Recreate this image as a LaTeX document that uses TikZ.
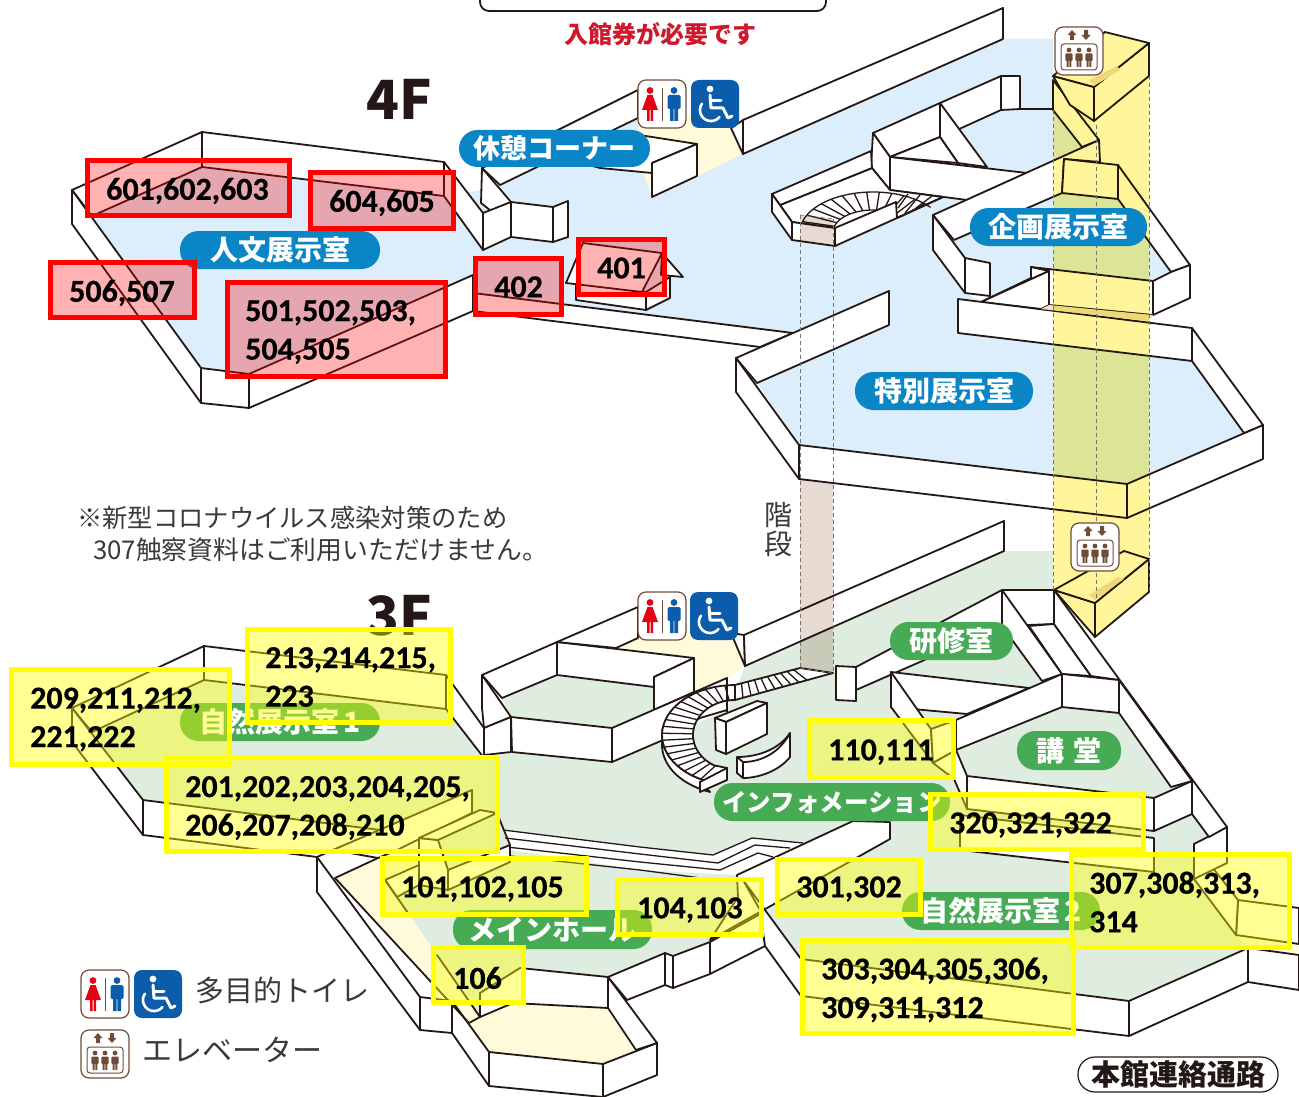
\documentclass[tikz,border=0pt]{standalone}
\usepackage{fontspec}
\setmainfont{Carlito}
\newfontfamily\numfont{Carlito}[BoldFeatures={FakeBold=0.5}]
\newfontfamily\jp{Noto Sans CJK JP}
\usetikzlibrary{calc}
\definecolor{ink}{HTML}{231815}
\definecolor{bluefloor}{HTML}{DCEEFB}
\definecolor{greenfloor}{HTML}{DFEDE1}
\definecolor{palefloor}{HTML}{FEFADA}
\definecolor{columnyellow}{HTML}{FFF59B}
\definecolor{stairtan}{HTML}{E6DAD1}
\definecolor{pillblue}{HTML}{0A85C6}
\definecolor{pillgreen}{HTML}{47AB55}
\definecolor{signblue}{HTML}{0B5CAB}
\definecolor{signred}{HTML}{E60012}
\definecolor{signbrown}{HTML}{6F4C3A}
\definecolor{noticered}{HTML}{D0182C}
\definecolor{legendgray}{HTML}{3A3A3A}
\definecolor{boxyellow}{RGB}{255,255,0}
\definecolor{boxred}{RGB}{255,0,0}
\tikzset{
 wall/.style={draw=ink,fill=white,line width=1.8pt,line join=round},
 edge/.style={draw=ink,line width=1.8pt,line cap=round},
 stepline/.style={draw=ink,line width=1.3pt},
 dashline/.style={draw=black!55,line width=.7pt,dash pattern=on 4pt off 3pt},
 pill/.style={fill=#1,rounded corners=18.5pt,inner sep=0pt,text=white,font=\jp\bfseries\fontsize{28}{28}\selectfont},
 redbox/.style={draw=boxred,line width=5.5pt,fill=boxred,fill opacity=.3,draw opacity=1},
 yellowbox/.style={draw=boxyellow,line width=5.5pt,fill=boxyellow,fill opacity=.42,draw opacity=1},
 nums/.style={inner sep=0pt,anchor=west,align=left,yshift=-2pt,text=black,font=\numfont\bfseries\fontsize{32}{38.5}\selectfont},
 icon/.style={draw=signbrown,fill=white,line width=1.2pt,rounded corners=8pt},
}
\newcommand{\pw}[1]{\path[wall] #1 -- cycle;}
\newcommand{\toileticon}[2]{\begin{scope}[shift={(#1,#2)}]
 \path[icon] (0,0) rectangle (48,48);
 \draw[signbrown,line width=1pt] (24,8) -- (24,41);
 \fill[signred] (12,10.5) circle (3.4pt);
 \fill[signred] (9.5,15) -- (14.5,15) -- (20,30) -- (4,30) -- cycle;
 \fill[signred] (9,30) rectangle (11.5,41) (12.5,30) rectangle (15,41);
 \fill[signblue] (36,10.5) circle (3.4pt);
 \fill[signblue,rounded corners=1.5pt] (29.5,15) rectangle (42.5,29);
 \fill[signblue] (32,27) rectangle (35.6,41) (36.4,27) rectangle (40,41);
\end{scope}}
\newcommand{\chairicon}[2]{\begin{scope}[shift={(#1,#2)}]
 \fill[signblue,rounded corners=8pt] (0,0) rectangle (48,48);
 \fill[white] (19,9) circle (3.4pt);
 \draw[white,line width=3pt,line cap=round,line join=round] (19,15) -- (20,28) -- (32,28) -- (37,38) -- (41,36);
 \draw[white,line width=3pt,line cap=round] (20,21) -- (30,21);
 \draw[white,line width=2.6pt,line cap=round] plot[domain=40:215,samples=24] ({20+11*cos(\x)},{30+11*sin(\x)});
\end{scope}}
\newcommand{\lifticon}[2]{\begin{scope}[shift={(#1,#2)}]
 \path[icon] (0,0) rectangle (48,48);
 \draw[signbrown,line width=1pt,rounded corners=3pt] (6,17) rectangle (42,43);
 \fill[signbrown] (17,3) -- (21.5,8) -- (19,8) -- (19,13) -- (15,13) -- (15,8) -- (12.5,8) -- cycle;
 \fill[signbrown] (31,13) -- (26.5,8) -- (29,8) -- (29,3) -- (33,3) -- (33,8) -- (35.5,8) -- cycle;
 \foreach \u in {14,24,34}{
  \fill[signbrown] (\u,23) circle (2.4pt);
  \fill[signbrown,rounded corners=1pt] (\u-3.6,26.5) rectangle (\u+3.6,34);
  \fill[signbrown] (\u-2.4,33) rectangle (\u-.3,40) (\u+.3,33) rectangle (\u+2.4,40);
 }
\end{scope}}
\begin{document}
\begin{tikzpicture}[x=1pt,y=-1pt]
\useasboundingbox (0,0) rectangle (1299,1097);
\fill[white] (0,0) rectangle (1299,1097);
% ---------------------------------------- 4F floors
\fill[palefloor] (600,110) -- (638,100) -- (731,128) -- (743,154) -- (698,176) -- (640,190) -- cycle;
\fill[bluefloor] (92,216) -- (202,167) -- (444,196) -- (482,190) -- (500,185) -- (638,118) -- (640,165) -- (652,197) -- (698,176) -- (743,154) -- (1003,39) -- (1053,39) -- (1053,110) -- (1082,147) -- (1064,159) -- (933,215) -- (965,293) -- (981,302) -- (958,299) -- (958,333) -- (1192,361) -- (1244,433) -- (1127,484) -- (799,445) -- (757,383) -- (889,325) -- (889,291) -- (793,333) -- (473,293) -- (473,275) -- (249,374) -- (201,368) -- cycle;
\fill[bluefloor] (954,240) -- (1062,193) -- (1118,199) -- (1171,272) -- (1153,281) -- (1031,267) -- (1031,278) -- (981,302) -- (990,296) -- (990,263) -- (965,258) -- cycle;
% ---------------------------------------- 3F floors
\fill[palefloor] (600,625) -- (638,615) -- (731,633) -- (745,666) -- (700,700) -- (640,700) -- cycle;
\fill[greenfloor] (92,732) -- (204,680) -- (446,709) -- (484,755) -- (512,752) -- (612,762) -- (727,710) -- (745,666) -- (1004,551) -- (1053,551) -- (1053,590) -- (1092,640) -- (1225,827) -- (1194,844) -- (1238,900) -- (1248,948) -- (1129,1001) -- (801,959) -- (774,927) -- (738,897) -- (710,942) -- (608,977) -- (520,968) -- (480,993) -- (480,1017) -- (437,955) -- (385,880) -- (419,885) -- (419,838) -- (472,813) -- (380,830) -- (143,800) -- cycle;
\fill[greenfloor] (502,698) -- (557,675) -- (654,687) -- (654,710) -- (612,728) -- (511,717) -- cycle;
\fill[palefloor] (335,878) -- (378,858) -- (419,845) -- (419,865) -- (385,880) -- (437,955) -- (480,1017) -- (469,1023) -- cycle;
\fill[palefloor] (469,1023) -- (513,1003) -- (608,1008) -- (636,1050) -- (603,1064) -- (489,1052) -- cycle;
\fill[palefloor] (1236,935) -- (1299,944) -- (1299,955) -- (1248,948) -- cycle;
% ---------------------------------------- 4F walls
\pw{(72,190) -- (202,132) -- (202,167) -- (92,216)}
\pw{(202,132) -- (444,162) -- (444,196) -- (202,167)}
\pw{(444,162) -- (483,213) -- (483,250) -- (444,196)}
\pw{(72,190) -- (201,368) -- (201,403) -- (72,224)}
\pw{(201,368) -- (249,374) -- (249,408) -- (201,403)}
\pw{(249,374) -- (473,275) -- (473,311) -- (249,408)}
\pw{(473,293) -- (793,333) -- (760,347) -- (473,311)}
\pw{(482,168) -- (638,90) -- (638,118) -- (500,185)}
\pw{(482,168) -- (511,202) -- (491,211) -- (481,203)}
\pw{(483,213) -- (511,202) -- (511,237) -- (483,250)}
\pw{(511,202) -- (553,207) -- (553,242) -- (511,237)}
\pw{(553,207) -- (568,201) -- (568,237) -- (553,242)}
\pw{(620,132) -- (697,144) -- (652,163) -- (652,173) -- (600,168) -- (570,160)}
\pw{(652,163) -- (697,144) -- (697,176) -- (652,197)}
% annex 401
\pw{(576,283) -- (646,292) -- (646,310) -- (576,300)}
\pw{(646,292) -- (670,277) -- (670,298) -- (646,310)}
\pw{(662,253) -- (683,277) -- (661,275)}
\pw{(583,243) -- (662,253) -- (642,292) -- (566,283)}
% long back wall
\pw{(731,128) -- (743,120) -- (743,154)}
\pw{(743,120) -- (1003,8) -- (1003,39) -- (743,154)}
% centre walls
\pw{(940,103) -- (1001,76) -- (1001,110) -- (957,130)}
\pw{(1001,76) -- (1020,76) -- (1020,109) -- (1001,110)}
\path[edge] (1020,109) -- (1053,109);
\pw{(873,133) -- (940,103) -- (940,137) -- (890,157)}
\pw{(940,103) -- (987,167) -- (958,163) -- (940,137)}
\pw{(890,157) -- (940,137) -- (958,163)}
\pw{(890,157) -- (1027,173) -- (967,200) -- (890,190)}
\pw{(873,133) -- (890,157) -- (890,190) -- (871,167)}
% stair housing 4F
\pw{(780,205) -- (872,168) -- (890,190) -- (943,197) -- (897,218) -- (835,228) -- (792,222)}
\pw{(772,194) -- (871,151) -- (872,168) -- (780,205)}
\draw[stepline] plot[domain=38:165,samples=30] ({873+73*cos(\x)},{232-40*sin(\x)});
\foreach \a in {45,55,...,165}{\draw[stepline] ({873+73*cos(\a)},{232-40*sin(\a)}) -- ({873+40*cos(\a)},{232-22*sin(\a)});}
\draw[stepline] plot[domain=60:170,samples=20] ({873+40*cos(\x)},{232-22*sin(\x)});
\pw{(772,194) -- (792,222) -- (792,240) -- (772,212)}
\pw{(792,222) -- (835,228) -- (835,246) -- (792,240)}
\pw{(835,228) -- (896,202) -- (897,218) -- (835,246)}
\path[edge] (897,218) -- (943,197);
\draw[stepline] (908,194) -- (898,208);
\draw[stepline] (920,195) -- (905,213);
\draw[stepline] (932,196) -- (916,208);
% kikaku room
\pw{(933,215) -- (1099,140) -- (1100,162) -- (1064,159) -- (1062,193) -- (954,240)}
\pw{(1064,159) -- (1118,165) -- (1118,199) -- (1062,193)}
\pw{(1118,165) -- (1190,265) -- (1171,272) -- (1118,199)}
\pw{(1171,272) -- (1190,265) -- (1190,298) -- (1153,315) -- (1153,281)}
\pw{(1031,267) -- (1153,281) -- (1153,315) -- (1049,305) -- (1049,271)}
\pw{(1031,267) -- (1049,271) -- (981,302) -- (1031,278)}
\pw{(1049,271) -- (1049,305) -- (1041,309) -- (981,302)}
\pw{(933,215) -- (965,258) -- (965,293) -- (933,250)}
\pw{(965,258) -- (990,263) -- (990,296) -- (965,293)}
% tokubetsu room
\pw{(958,299) -- (1192,328) -- (1192,361) -- (958,333)}
\pw{(736,358) -- (889,291) -- (889,325) -- (757,383)}
\pw{(736,358) -- (799,445) -- (799,479) -- (736,392)}
\pw{(799,445) -- (1127,484) -- (1127,518) -- (799,479)}
\pw{(1127,484) -- (1263,425) -- (1263,459) -- (1127,518)}
\pw{(1192,328) -- (1263,425) -- (1244,433) -- (1192,361)}
% elevator 4F
\pw{(1053,80) -- (1099,140) -- (1082,147) -- (1053,110)}
\pw{(1053,76) -- (1094,87) -- (1094,121) -- (1070,105)}
\pw{(1094,87) -- (1149,43) -- (1149,76) -- (1094,121)}
\pw{(1105,32) -- (1149,43) -- (1094,87) -- (1053,76)}
\fill[stairtan!70!columnyellow] (1089,80) -- (1117,66) -- (1120,70) -- (1094,86) -- cycle;
\fill[stairtan!70!columnyellow] (1049,305) -- (1153,315) -- (1149,321) -- (1041,309) -- cycle;
% ---------------------------------------- 3F walls
\pw{(72,708) -- (204,646) -- (204,680) -- (92,732)}
\pw{(204,646) -- (446,675) -- (446,709) -- (204,680)}
\pw{(446,675) -- (484,728) -- (484,758) -- (446,709)}
\pw{(72,708) -- (143,800) -- (143,835) -- (72,742)}
\pw{(143,800) -- (380,830) -- (333,850) -- (317,857) -- (143,835)}
\pw{(333,850) -- (472,790) -- (472,813) -- (397,850) -- (378,858)}
% centre block
\pw{(482,675) -- (511,717) -- (484,728) -- (482,708)}
\pw{(482,675) -- (557,642) -- (557,675) -- (502,698)}
\pw{(557,642) -- (694,658) -- (654,677) -- (654,687) -- (557,675)}
\pw{(654,677) -- (694,658) -- (694,692) -- (654,710)}
\pw{(557,642) -- (638,607) -- (638,638) -- (616,648)}
\pw{(484,728) -- (511,717) -- (511,752) -- (484,755)}
\pw{(511,717) -- (612,728) -- (612,762) -- (512,752)}
\pw{(612,728) -- (727,678) -- (727,710) -- (700,718) -- (663,740) -- (612,762)}
% long back wall
\pw{(731,633) -- (744,635) -- (745,666)}
\pw{(744,635) -- (1004,521) -- (1004,551) -- (745,666)}
% hall
\pw{(317,857) -- (420,997) -- (420,1030) -- (317,892)}
\pw{(420,997) -- (452,1001) -- (452,1033) -- (420,1030)}
\pw{(452,1001) -- (489,1052) -- (489,1086) -- (452,1033)}
\pw{(489,1052) -- (603,1064) -- (603,1097) -- (489,1086)}
\pw{(603,1064) -- (657,1043) -- (657,1075) -- (603,1097)}
\pw{(608,977) -- (657,1043) -- (636,1050) -- (608,1008)}
\pw{(480,993) -- (520,968) -- (608,977) -- (608,1008) -- (513,1003) -- (480,1017)}
\path[edge] (437,955) -- (480,1017) -- (469,1023);
\path[edge] (335,878) -- (469,1023);
\path[edge] (335,878) -- (378,858);
% hall steps
\path[fill=white] (503,830) -- (713,855) -- (752,838) -- (803,843) -- (737,875) -- (640,870) -- (510,850) -- cycle;
\path[stepline] (503,830) -- (640,847) -- (713,855) -- (752,838) -- (803,843);
\path[stepline] (505,838) -- (640,854) -- (718,863) -- (755,845) -- (790,848);
\path[stepline] (507,847) -- (640,862) -- (720,870) -- (758,853) -- (773,857);
\path[stepline] (510,856) -- (640,870) -- (716,880);
% step block
\pw{(385,880) -- (419,865) -- (419,885) -- (397,897)}
\path[edge] (385,880) -- (408,913);
\pw{(448,870) -- (510,845) -- (510,862) -- (448,890)}
\pw{(419,838) -- (438,840) -- (448,870) -- (448,890) -- (419,885)}
\pw{(419,838) -- (480,810) -- (497,813) -- (438,840)}
\path[edge] (497,813) -- (510,845);
% right of hall
\pw{(608,977) -- (665,953) -- (665,985) -- (627,1000)}
\pw{(665,953) -- (673,956) -- (673,988) -- (665,985)}
\pw{(673,956) -- (710,942) -- (710,974) -- (673,988)}
\pw{(710,942) -- (762,913) -- (765,946) -- (710,974)}
\pw{(737,875) -- (853,821) -- (890,822) -- (890,839) -- (710,940) -- (738,897)}
\pw{(743,880) -- (801,959) -- (801,996) -- (765,946) -- (760,910)}
\pw{(801,959) -- (1129,1001) -- (1129,1036) -- (801,996)}
\pw{(1129,1001) -- (1248,948) -- (1248,982) -- (1129,1036)}
\pw{(1248,948) -- (1299,955) -- (1299,990) -- (1248,982)}
\pw{(1238,900) -- (1299,908) -- (1299,944) -- (1236,935)}
\pw{(1194,844) -- (1238,900) -- (1236,935) -- (1194,879)}
\pw{(1194,844) -- (1227,827) -- (1227,863) -- (1194,879)}
% kenshu + corridor
\pw{(856,667) -- (1002,590) -- (1002,626) -- (856,690)}
\pw{(836,666) -- (856,667) -- (856,701) -- (836,700)}
\pw{(1002,590) -- (1054,590) -- (1054,624) -- (1002,626)}
\pw{(1002,590) -- (1062,674) -- (1042,681) -- (1002,626)}
\pw{(1029,626) -- (1054,624) -- (1091,676) -- (1062,674)}
\pw{(1054,590) -- (1227,827) -- (1209,837) -- (1192,814) -- (1192,781) -- (1119,680) -- (1091,676) -- (1054,624)}
% lecture hall
\pw{(960,815) -- (1154,838) -- (1154,872) -- (960,850)}
\pw{(967,776) -- (1154,798) -- (1154,831) -- (967,809)}
\pw{(1154,798) -- (1192,781) -- (1192,814) -- (1154,831)}
\pw{(1119,680) -- (1192,781) -- (1171,787) -- (1119,713)}
\pw{(1062,674) -- (1119,680) -- (1119,713) -- (1062,707)}
\pw{(956,720) -- (1062,674) -- (1062,707) -- (956,750)}
\pw{(891,672) -- (1029,688) -- (967,714) -- (891,707)}
\pw{(891,672) -- (931,729) -- (933,763) -- (891,707)}
\pw{(931,729) -- (956,720) -- (956,750) -- (933,763)}
\pw{(933,763) -- (956,750) -- (967,776) -- (967,809) -- (954,779)}
% stair 3F
\path[wall] plot[domain=172:250,samples=16] ({735+73*cos(\x)},{745-50*sin(\x)}) -- (700,782) -- plot[domain=250:172,samples=16] ({735+73*cos(\x)},{735-50*sin(\x)}) -- cycle;
\path[wall] (800,668) -- plot[domain=90:250,samples=30] ({735+73*cos(\x)},{735-50*sin(\x)}) -- (727,768) -- plot[domain=240:90,samples=30] ({735+42*cos(\x)},{735-35*sin(\x)}) -- (833,673) -- cycle;
\path[wall] (700,782) -- (727,768) -- (727,780) -- (700,792) -- cycle;
\foreach \a in {98,106,...,242}{\draw[stepline] ({735+73*cos(\a)},{735-50*sin(\a)}) -- ({735+42*cos(\a)},{735-35*sin(\a)});}
\foreach \t in {0,.1,...,1}{\draw[stepline] ($(735,685)!\t!(800,668)$) -- ($(735,700)!\t!(815,678)$);}
\draw[stepline] (727,678) -- (727,712);
% info desk
\pw{(715,718) -- (757,701) -- (767,703) -- (726,722)}
\pw{(726,722) -- (767,703) -- (767,734) -- (726,754)}
\pw{(715,718) -- (726,722) -- (726,754) -- (716,750)}
\path[wall] (737,757) .. controls (760,757) and (780,748) .. (790,733) -- (790,757) .. controls (780,770) and (760,778) .. (743,778) -- (737,773) -- cycle;
\path[edge] (737,757) -- (743,762) .. controls (762,762) and (780,752) .. (790,733);
\path[edge] (743,762) -- (743,778);
% shaft 3F
\pw{(1054,590) -- (1095,603) -- (1095,637)}
\pw{(1095,603) -- (1149,559) -- (1149,592) -- (1095,637)}
\pw{(1054,590) -- (1124,551) -- (1149,559) -- (1095,603)}
\fill[stairtan!70!columnyellow] (1089,595) -- (1118,577) -- (1124,579) -- (1095,600) -- cycle;
% ---------------------------------------- see-through column and stair tube
\begin{scope}[blend mode=multiply]
\fill[columnyellow] (1053,76) -- (1105,32) -- (1149,43) -- (1149,592) -- (1095,637) -- (1054,590) -- cycle;
\fill[stairtan] (800,215) -- (833,219) -- (833,246) -- (800,241) -- cycle;
\fill[stairtan] (800,479) -- (833,484) -- (833,673) -- (800,668) -- cycle;
\end{scope}
\foreach \u/\a/\b in {1053/110/590,1096/125/600,1149/76/592}{\draw[dashline] (\u,\a) -- (\u,\b);}
\foreach \u/\a/\b in {800/215/668,833/219/673}{\draw[dashline] (\u,\a) -- (\u,\b);}
\draw[dashline] (800,215) -- (833,219);
\draw[dashline] (800,668) -- (833,673);
% ---------------------------------------- pills
\node[pill=pillblue,minimum width=191pt,minimum height=37pt] (p1) at (554.5,148.5) {\fontsize{27}{27}\selectfont 休憩コーナー};
\node[pill=pillblue,minimum width=200pt,minimum height=38pt] (p2) at (280,250) {人文展示室\hspace{8pt}};
\node[pill=pillblue,minimum width=177pt,minimum height=38pt] (p3) at (1058.5,227) {企画展示室\hspace{4pt}};
\node[pill=pillblue,minimum width=178pt,minimum height=38pt] (p4) at (944,391) {特別展示室};
\node[pill=pillgreen,minimum width=123pt,minimum height=38pt] (p5) at (951.5,641) {研修室};
\node[pill=pillgreen,minimum width=200pt,minimum height=38pt] (p6) at (280,722) {自然展示室\,1};
\node[pill=pillgreen,minimum width=104pt,minimum height=39pt] (p7) at (1069,750.5) {講\hspace{9pt}堂};
\node[pill=pillgreen,minimum width=236pt,minimum height=38pt] (p8) at (832,802) {\fontsize{24.5}{25}\selectfont インフォメーション};
\node[pill=pillgreen,minimum width=199pt,minimum height=39pt] (p9) at (552.5,929.5) {メインホール};
\node[pill=pillgreen,minimum width=198pt,minimum height=38pt] (p10) at (1001,911) {自然展示室\,2};
% ---------------------------------------- icons
\toileticon{638}{80}
\chairicon{691}{80}
\toileticon{638}{592}
\chairicon{690}{592}
\toileticon{81}{970}
\chairicon{134}{970}
\lifticon{1055}{27}
\lifticon{1071}{523}
\lifticon{81}{1030}
% ---------------------------------------- plain labels
\path[draw=ink,line width=1.8pt,rounded corners=9pt] (480,-15) -- (480,11) -- (826,11) -- (826,-15);
\node[inner sep=0pt,text=noticered,font=\jp\bfseries\fontsize{24}{24}\selectfont] (t1) at (660,34) {入館券が必要です};
\node[inner sep=0pt,text=ink,font=\jp\bfseries\fontsize{54}{54}\selectfont] (f4) at (399,99) {4F};
\node[inner sep=0pt,text=ink,font=\jp\bfseries\fontsize{54}{54}\selectfont] (f3) at (399,616) {3F};
\node[inner sep=0pt,anchor=west,text=legendgray,font=\jp\fontsize{25.3}{25}\selectfont] (n1) at (77,518) {※新型コロナウイルス感染対策のため};
\node[inner sep=0pt,anchor=west,text=legendgray,font=\jp\fontsize{25.8}{25}\selectfont] (n2) at (93,550) {307触察資料はご利用いただけません。};
\node[inner sep=0pt,text=legendgray,font=\jp\fontsize{28}{28}\selectfont] (s1) at (778,515) {階};
\node[inner sep=0pt,text=legendgray,font=\jp\fontsize{28}{28}\selectfont] (s2) at (778,544) {段};
\node[inner sep=0pt,anchor=west,text=legendgray,font=\jp\fontsize{29}{29}\selectfont] (l1) at (195,990) {多目的トイレ};
\node[inner sep=0pt,anchor=west,text=legendgray,font=\jp\fontsize{30}{30}\selectfont] (l2) at (142,1050) {エレベーター};
\node[draw=ink,fill=white,line width=1.2pt,rounded corners=17pt,minimum width=200pt,minimum height=35pt,inner sep=0pt,text=ink,font=\jp\bfseries\fontsize{29}{29}\selectfont] (l3) at (1178,1074.5) {本館連絡通路};
% ---------------------------------------- highlighted boxes
\foreach \a/\b/\c/\d in {85/158/292/218,308/170/456/231,48/260/197/320,225/280/448/379,473/256/564/317,576/237/667/297}{\path[redbox] (\a+2.5,\b+2.5) rectangle (\c-2.5,\d-2.5);}
\foreach \a/\b/\c/\d in {245/627/453/725,9/667/232/767,164/755/500/854,380/856/589/917,615/877/764/937,431/945/526/1005,807/718/956/780,928/792/1146/852,775/857/923/917,1069/852/1292/950,800/938/1076/1036}{\path[yellowbox] (\a+2.5,\b+2.5) rectangle (\c-2.5,\d-2.5);}
\node[nums] (r1) at (106,189) {601,602,603};
\node[nums] (r2) at (329,201) {604,605};
\node[nums] (r3) at (69,291) {506,507};
\node[nums] (r4) at (245,330) {501,502,503,\\504,505};
\node[nums] (r5) at (494,285) {402};
\node[nums] (r6) at (597,266) {401};
\node[nums] (y1) at (265,675) {213,214,215,\\223};
\node[nums] (y2) at (30,717.5) {209,211,212,\\221,222};
\node[nums] (y3) at (185,806) {201,202,203,204,205,\\206,207,208,210};
\node[nums] (y4) at (401,887) {101,102,105};
\node[nums] (y5) at (637,908) {104,103};
\node[nums] (y6) at (453,976) {106};
\node[nums] (y7) at (828,750) {110,111};
\node[nums] (y8) at (949,823) {320,321,322};
\node[nums] (y9) at (796,887) {301,302};
\node[nums] (y10) at (1089,900) {307,308,313,\\314};
\node[nums] (y11) at (821,988) {303,304,305,306,\\309,311,312};
\end{tikzpicture}
\end{document}
